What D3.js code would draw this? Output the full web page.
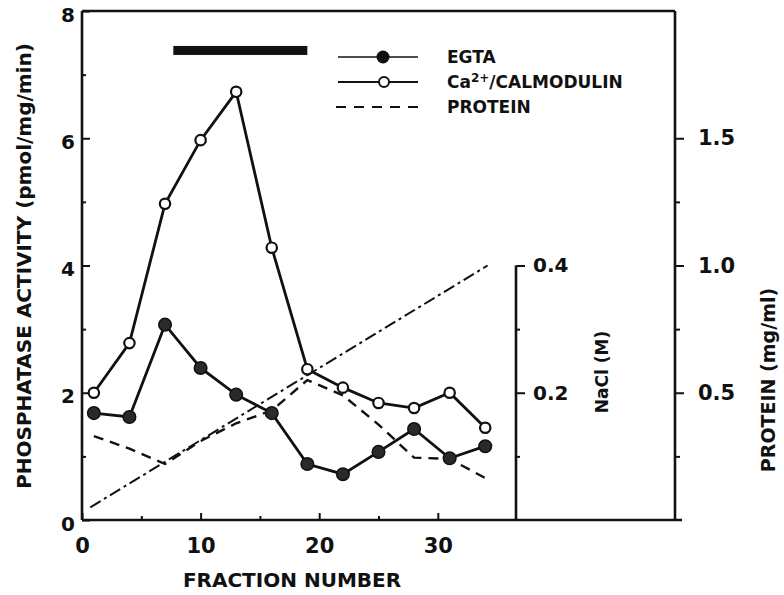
<!DOCTYPE html>
<html>
<head>
<meta charset="utf-8">
<script src="https://cdn.jsdelivr.net/npm/d3@7"></script>
<style>
    body { margin: 0; background: #fff; }
    text { font-family: "DejaVu Sans", "Liberation Sans", sans-serif; font-weight: bold; fill: #111; }
</style>
</head>
<body>
<div id="chart"></div>
<script>
// fraction numbers and the three measured series
var fractions = [1, 4, 7, 10, 13, 16, 19, 22, 25, 28, 31, 34];
var egta = [1.68, 1.62, 3.07, 2.39, 1.97, 1.68, 0.88, 0.72, 1.07, 1.43, 0.97, 1.16];
var calmodulin = [2.0, 2.78, 4.97, 5.97, 6.73, 4.28, 2.37, 2.08, 1.84, 1.76, 2.0, 1.45];
var protein = [0.33, 0.28, 0.22, 0.31, 0.38, 0.43, 0.55, 0.49, 0.375, 0.245, 0.24, 0.165];

// NaCl gradient (fraction, M)
var naclFractions = [0.7, 34.2];
var naclValues = [0.02, 0.40];

// pooled fractions bar
var poolStart = 7.7, poolEnd = 19.0, poolLevel = 7.38;

var activityTicks = [0, 2, 4, 6, 8];
var activityMinor = [1, 3, 5, 7];
var fractionTicks = [0, 10, 20, 30];
var fractionMinor = [5, 15, 25];
var naclTicks = [0.2, 0.4];
var naclMinor = [0.1, 0.3];
var proteinTicks = [0.5, 1.0, 1.5];
var proteinMinor = [0.25, 0.75, 1.25];

var w = 784, h = 595;
var plotLeft = 82, plotRight = 675, plotTop = 11, plotBottom = 520;

var svg = d3.select("#chart").append("svg")
    .attr("width", w)
    .attr("height", h);

var x = d3.scaleLinear().domain([0, 50]).range([plotLeft, plotRight]);
var y = d3.scaleLinear().domain([0, 8]).range([plotBottom, plotTop]);
var yNacl = d3.scaleLinear().domain([0, 0.8]).range([plotBottom, plotTop]);
var yProt = d3.scaleLinear().domain([0, 2]).range([plotBottom, plotTop]);

var naclX = 516;

// frame lines
svg.append("line").attr("x1", plotLeft).attr("x2", plotLeft).attr("y1", plotTop).attr("y2", plotBottom)
    .attr("stroke", "#111").attr("stroke-width", 2.6);
svg.append("line").attr("x1", plotLeft).attr("x2", plotRight).attr("y1", plotTop).attr("y2", plotTop)
    .attr("stroke", "#111").attr("stroke-width", 2.6);
svg.append("line").attr("x1", plotLeft).attr("x2", plotRight + 7).attr("y1", plotBottom).attr("y2", plotBottom)
    .attr("stroke", "#111").attr("stroke-width", 2.6);
svg.append("line").attr("x1", plotRight).attr("x2", plotRight).attr("y1", plotTop).attr("y2", plotBottom)
    .attr("stroke", "#111").attr("stroke-width", 2.6);
svg.append("line").attr("x1", naclX).attr("x2", naclX).attr("y1", yNacl(0.4)).attr("y2", plotBottom)
    .attr("stroke", "#111").attr("stroke-width", 2.6);

function styleAxis(g, size) {
    g.select(".domain").remove();
    g.selectAll(".tick line").attr("stroke", "#111").attr("stroke-width", 2);
    g.selectAll(".tick text").style("font-size", size + "px").attr("fill", "#111");
}

// left axis
svg.append("g").attr("transform", "translate(" + plotLeft + ",0)")
    .call(d3.axisLeft(y).tickValues(activityTicks).tickSize(-8).tickPadding(7).tickFormat(d3.format("d")))
    .call(styleAxis, 20)
    .selectAll(".tick text").attr("dy", "0.5em");
svg.append("g").attr("transform", "translate(" + plotLeft + ",0)")
    .call(d3.axisLeft(y).tickValues(activityMinor).tickSize(-4).tickFormat(""))
    .call(styleAxis, 20);

// bottom axis
svg.append("g").attr("transform", "translate(0," + plotBottom + ")")
    .call(d3.axisBottom(x).tickValues(fractionTicks).tickSize(-7).tickPadding(18).tickFormat(d3.format("d")))
    .call(styleAxis, 21);
svg.append("g").attr("transform", "translate(0," + plotBottom + ")")
    .call(d3.axisBottom(x).tickValues(fractionMinor).tickSize(-4).tickFormat(""))
    .call(styleAxis, 21);

// NaCl axis
svg.append("g").attr("transform", "translate(" + naclX + ",0)")
    .call(d3.axisRight(yNacl).tickValues(naclTicks).tickSize(9).tickPadding(8).tickFormat(d3.format(".1f")))
    .call(styleAxis, 20);
svg.append("g").attr("transform", "translate(" + naclX + ",0)")
    .call(d3.axisRight(yNacl).tickValues(naclMinor).tickSize(4).tickFormat(""))
    .call(styleAxis, 20);

// protein axis
svg.append("g").attr("transform", "translate(" + plotRight + ",0)")
    .call(d3.axisRight(yProt).tickValues(proteinTicks).tickSize(9).tickPadding(14).tickFormat(d3.format(".1f")))
    .call(styleAxis, 21);
svg.append("g").attr("transform", "translate(" + plotRight + ",0)")
    .call(d3.axisRight(yProt).tickValues(proteinMinor).tickSize(5).tickFormat(""))
    .call(styleAxis, 21);

// axis titles
svg.append("text")
    .attr("transform", "translate(31," + 266 + ") rotate(-90)")
    .attr("text-anchor", "middle")
    .style("font-size", "20px")
    .text("PHOSPHATASE ACTIVITY  (pmol/mg/min)");

svg.append("text")
    .attr("x", 292).attr("y", 587)
    .attr("text-anchor", "middle")
    .style("font-size", "20px")
    .text("FRACTION NUMBER");

svg.append("text")
    .attr("transform", "translate(608,372) rotate(-90)")
    .attr("text-anchor", "middle")
    .style("font-size", "17px")
    .text("NaCl (M)");

svg.append("text")
    .attr("transform", "translate(775,380) rotate(-90)")
    .attr("text-anchor", "middle")
    .style("font-size", "19px")
    .text("PROTEIN (mg/ml)");

// pooled bar
svg.append("rect")
    .attr("x", x(poolStart))
    .attr("y", y(poolLevel) - 4.5)
    .attr("width", x(poolEnd) - x(poolStart))
    .attr("height", 9)
    .attr("fill", "#111");

// NaCl gradient
var naclData = naclFractions.map(function (f, i) { return [f, naclValues[i]]; });
svg.append("path")
    .datum(naclData)
    .attr("fill", "none")
    .attr("stroke", "#111")
    .attr("stroke-width", 2)
    .attr("stroke-dasharray", "12,4,3,4")
    .attr("d", d3.line()
        .x(function (d) { return x(d[0]); })
        .y(function (d) { return yNacl(d[1]); }));

// protein
svg.append("path")
    .datum(fractions)
    .attr("fill", "none")
    .attr("stroke", "#111")
    .attr("stroke-width", 2.4)
    .attr("stroke-dasharray", "10,7")
    .attr("d", d3.line()
        .x(function (d) { return x(d); })
        .y(function (d, i) { return yProt(protein[i]); }));

// activity lines
var lineAct = function (vals) {
    return d3.line()
        .x(function (d) { return x(d); })
        .y(function (d, i) { return y(vals[i]); });
};

svg.append("path").datum(fractions)
    .attr("fill", "none").attr("stroke", "#111").attr("stroke-width", 2.8)
    .attr("d", lineAct(calmodulin));
svg.append("path").datum(fractions)
    .attr("fill", "none").attr("stroke", "#111").attr("stroke-width", 2.8)
    .attr("d", lineAct(egta));

svg.selectAll(".egta")
    .data(fractions)
    .enter().append("circle")
    .attr("class", "egta")
    .attr("cx", function (d) { return x(d); })
    .attr("cy", function (d, i) { return y(egta[i]); })
    .attr("r", 6.3)
    .attr("fill", "#2a2a2a")
    .attr("stroke", "#111")
    .attr("stroke-width", 1.5);

svg.selectAll(".calm")
    .data(fractions)
    .enter().append("circle")
    .attr("class", "calm")
    .attr("cx", function (d) { return x(d); })
    .attr("cy", function (d, i) { return y(calmodulin[i]); })
    .attr("r", 5.2)
    .attr("fill", "#fff")
    .attr("stroke", "#111")
    .attr("stroke-width", 2.2);

// legend
var legend = svg.append("g");
legend.append("line").attr("x1", 338).attr("x2", 418).attr("y1", 57).attr("y2", 57)
    .attr("stroke", "#111").attr("stroke-width", 1.6);
legend.append("circle").attr("cx", 383).attr("cy", 57).attr("r", 6.5).attr("fill", "#111");
legend.append("text").attr("x", 447).attr("y", 63).style("font-size", "17px").text("EGTA");

legend.append("line").attr("x1", 338).attr("x2", 418).attr("y1", 82).attr("y2", 82)
    .attr("stroke", "#111").attr("stroke-width", 2);
legend.append("circle").attr("cx", 384).attr("cy", 82).attr("r", 5)
    .attr("fill", "#fff").attr("stroke", "#111").attr("stroke-width", 2);
var ca = legend.append("text").attr("x", 447).attr("y", 88).style("font-size", "17px");
ca.append("tspan").text("Ca");
ca.append("tspan").attr("dy", -6).style("font-size", "12px").text("2+");
ca.append("tspan").attr("dy", 6).text("/CALMODULIN");

legend.append("line").attr("x1", 336).attr("x2", 418).attr("y1", 107).attr("y2", 107)
    .attr("stroke", "#111").attr("stroke-width", 2).attr("stroke-dasharray", "10,8");
legend.append("text").attr("x", 447).attr("y", 113).style("font-size", "17px").text("PROTEIN");
</script>
</body>
</html>
